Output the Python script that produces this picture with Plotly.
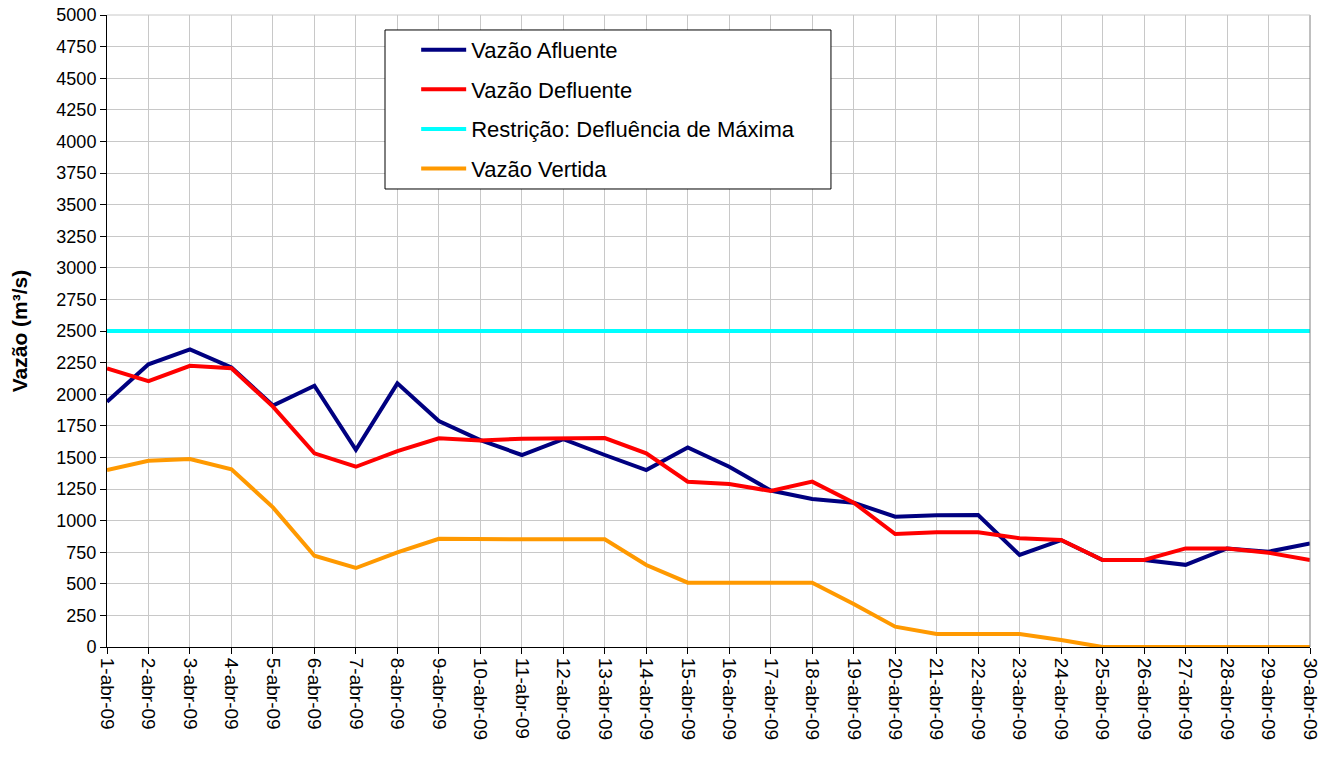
import plotly.graph_objects as go

dias = [f"{d}-abr-09" for d in range(1, 31)]

vazao_afluente = [1940, 2236, 2355, 2212, 1910, 2067, 1560, 2086, 1788, 1637,
                  1519, 1645, 1519, 1400, 1578, 1426, 1238, 1171, 1142, 1031,
                  1042, 1044, 728, 846, 688, 688, 650, 780, 754, 820]
vazao_defluente = [2204, 2104, 2225, 2206, 1902, 1532, 1426, 1550, 1651, 1633,
                   1648, 1651, 1653, 1532, 1308, 1289, 1234, 1308, 1142, 894,
                   907, 907, 860, 846, 688, 688, 780, 780, 746, 688]
restricao_valor = 2500
restricao = [restricao_valor] * len(dias)
vazao_vertida = [1400, 1474, 1487, 1406, 1105, 722, 625, 749, 856, 852,
                 852, 852, 852, 649, 509, 509, 509, 509, 340, 161,
                 103, 103, 103, 55, 0, 0, 0, 0, 0, 0]

y_ticks = list(range(0, 5001, 250))

fig = go.Figure()
series = [
    ("Vazão Afluente", vazao_afluente, "#000080"),
    ("Vazão Defluente", vazao_defluente, "#ff0000"),
    ("Restrição: Defluência de Máxima", restricao, "#00ffff"),
    ("Vazão Vertida", vazao_vertida, "#ff9900"),
]
for i, (name, vals, color) in enumerate(series):
    fig.add_trace(go.Scatter(x=dias, y=vals, name=name, mode="lines", legendgroup=f"g{i}",
                             line=dict(color=color, width=4)))

fig.update_layout(
    width=1333, height=762,
    margin=dict(l=107, r=23, t=15, b=115),
    paper_bgcolor="white", plot_bgcolor="white",
    font=dict(family="Liberation Sans, Arial, sans-serif", color="black", size=18),
    legend=dict(x=0.257, y=0.978, xanchor="left", yanchor="top",
                bgcolor="rgba(0,0,0,0)", borderwidth=0,
                font=dict(size=22), tracegroupgap=8, itemwidth=45),
    showlegend=True,
)
fig.update_xaxes(type="category", range=[0, 29], showgrid=True, gridcolor="#c8c8c8",
                 gridwidth=1, showline=True, linecolor="black", linewidth=1,
                 ticks="outside", ticklen=6, tickcolor="black", tickangle=90,
                 tickfont=dict(size=19), mirror=False, zeroline=False, automargin=False)
fig.update_yaxes(range=[0, 5000], tickvals=y_ticks, ticktext=[str(v) for v in y_ticks],
                 showgrid=True, gridcolor="#c8c8c8", gridwidth=1,
                 showline=True, linecolor="black", linewidth=1,
                 ticks="outside", ticklen=6, tickcolor="black", zeroline=False,
                 tickfont=dict(size=18), automargin=False,
                 title=dict(text="<b>Vazão (m³/s)</b>", font=dict(size=21), standoff=23))
fig.add_shape(type="line", xref="paper", yref="paper", x0=1, x1=1, y0=0, y1=1,
              line=dict(color="#808080", width=1))
fig.add_shape(type="line", xref="paper", yref="paper", x0=0, x1=1, y0=1, y1=1,
              line=dict(color="#c8c8c8", width=1))
# legend frame
fig.add_shape(type="rect", xref="paper", yref="paper", x0=0.2311, x1=0.6018,
              y0=0.7247, y1=0.9763, fillcolor="white", line=dict(color="black", width=1),
              layer="above")

fig.write_html("out.html", config={"displayModeBar": False},
               post_script="document.body.style.margin='0';document.body.style.overflow='hidden';")
